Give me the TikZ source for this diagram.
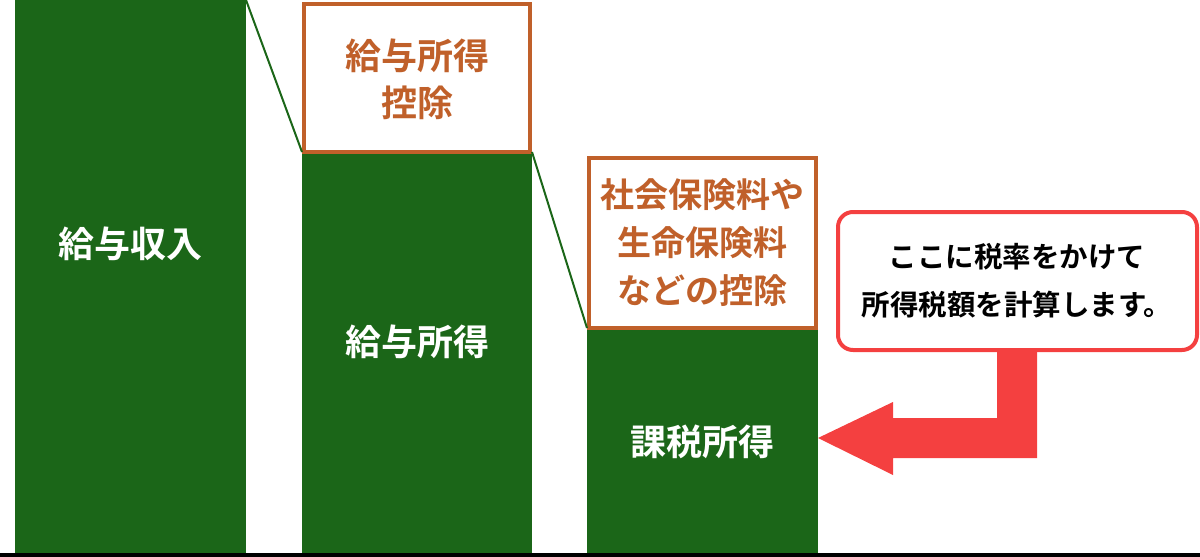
\documentclass[tikz,border=0pt]{standalone}
\usepackage{fontspec}
\setmainfont{Noto Sans CJK JP Bold}
\definecolor{gr}{HTML}{1B6618}
\definecolor{orc}{HTML}{C0602A}
\definecolor{rd}{HTML}{F44040}
\begin{document}
\begin{tikzpicture}[x=1pt,y=-1pt,
  bar/.style={fill=gr,draw=none},
  obox/.style={draw=orc,line width=4pt,fill=white},
  wt/.style={text=white,font=\fontsize{36}{44}\selectfont},
  ot/.style={text=orc,font=\fontsize{34}{48}\selectfont,align=center}]
\useasboundingbox (0,0) rectangle (1200,557);
\fill[bar] (15,0) rectangle (246,553);
\fill[bar] (302,152) rectangle (532,553);
\fill[bar] (587,328) rectangle (818,553);
\draw[obox] (304,4) rectangle (530,152);
\draw[obox] (589,158) rectangle (816,328);
\draw[gr,line width=2pt] (246,0) -- (302,152);
\draw[gr,line width=2pt] (532,152) -- (587,328);
\fill[black] (0,553) rectangle (1200,557);
\node[wt] (a) at (130.5,244) {給与収入};
\node[wt] (b) at (417,342) {給与所得};
\node[wt] (c) at (702.5,442) {課税所得};
\node[ot,font=\fontsize{36}{47}\selectfont] (d) at (417,79) {給与所得\\控除};
\node[ot] (e) at (702.5,243) {社会保険料や\\生命保険料\\などの控除};
\draw[rd,line width=4pt,fill=white,rounded corners=15pt] (838,212) rectangle (1197,350);
\node[font=\fontsize{28.5}{48}\selectfont,align=center] (f) at (1017,281) {ここに税率をかけて\\所得税額を計算します。};
\fill[rd] (997,352) -- (1037,352) -- (1037,458) -- (893,458) -- (893,475) -- (818,438) -- (893,402) -- (893,418) -- (997,418) -- cycle;
\end{tikzpicture}
\end{document}
